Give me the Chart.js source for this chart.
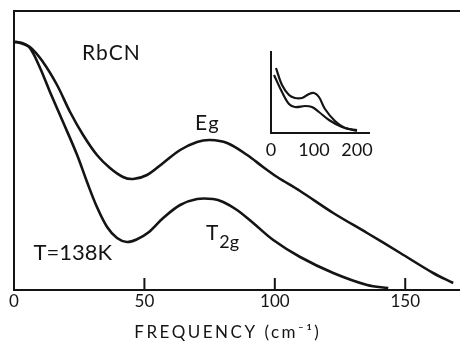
<!DOCTYPE html>
<html>
<head>
<meta charset="utf-8">
<script src="https://cdn.jsdelivr.net/npm/chart.js@4.4.1/dist/chart.umd.min.js"></script>
<style>
  body { margin: 0; background: #fff; }
  #wrap { position: relative; width: 460px; height: 343px; }
  #inset { position: absolute; left: 256px; top: 40px; }
</style>
</head>
<body>
<div id="wrap">
  <canvas id="main" width="460" height="343"></canvas>
  <canvas id="inset" width="130" height="128"></canvas>
</div>
<script>
// RbCN Raman spectra, T = 138 K (intensity in arbitrary units)
const egFreq = [0, 1.2, 6.1, 11.1, 16.5, 21.5, 26.5, 31.8, 36.8, 41.8, 45.7, 51.0, 57.2, 63.7, 70.2, 75.2, 81.7, 89.4, 95.5, 100.9, 109.7, 122.4, 135.4, 148.1, 160.7, 168.4];
const egInt  = [99.2, 99.2, 97.2, 91.2, 82.0, 71.2, 62.0, 54.0, 48.8, 45.2, 44.4, 46.0, 50.8, 56.0, 59.2, 60.0, 58.8, 54.0, 49.2, 45.2, 39.6, 30.8, 22.8, 14.8, 6.8, 2.8];

const t2gFreq = [0, 3.1, 6.1, 10.0, 13.8, 18.8, 24.2, 28.0, 31.8, 35.7, 39.5, 43.3, 47.0, 51.5, 57.2, 63.7, 70.2, 76.3, 80.2, 85.5, 91.7, 99.4, 109.7, 122.4, 135.4, 143.5];
const t2gInt  = [99.2, 98.8, 96.8, 88.8, 79.2, 67.2, 54.0, 43.2, 33.2, 25.2, 20.8, 19.2, 20.2, 23.0, 28.8, 34.0, 36.4, 36.4, 35.2, 32.0, 26.8, 20.0, 13.2, 6.8, 2.0, 0.8];

// inset, wider frequency range
const insetFreqA = [11.6, 25.6, 41.9, 55.8, 72.1, 88.4, 100, 111.6, 125.6, 148.8, 172.1, 200];
const insetIntA  = [65, 48, 38, 35, 35, 39, 40, 36, 24, 12, 5, 3];
const insetFreqB = [7, 25.6, 41.9, 55.8, 79.1, 95.3, 111.6, 134.9, 165.1, 200];
const insetIntB  = [58, 41, 29, 26, 27, 26, 21, 13, 6, 2];

const mainTicks = [0, 50, 100, 150];
const insetTicks = [0, 100, 200];

const FONT = "Lato, 'DejaVu Sans', sans-serif";
const INK = '#141414';

const toPoints = (xs, ys) => xs.map((x, i) => ({ x: x, y: ys[i] }));

const curve = (xs, ys, w) => ({
    data: toPoints(xs, ys),
    borderColor: INK,
    borderWidth: w,
    pointRadius: 0,
    fill: false,
    tension: 0.35
});

// tick marks that point up into the plot
const innerTicks = {
    id: 'innerTicks',
    afterDraw(chart, args, opts) {
        const x = chart.scales.x;
        const ctx = chart.ctx;
        ctx.save();
        ctx.strokeStyle = INK;
        ctx.lineWidth = 2;
        x.ticks.forEach(t => {
            if (t.value === 0) return;
            const px = x.getPixelForValue(t.value);
            ctx.beginPath();
            ctx.moveTo(px, x.top);
            ctx.lineTo(px, x.top - opts.length);
            ctx.stroke();
        });
        ctx.restore();
    }
};

// text labels on the plot
const labels = {
    id: 'labels',
    afterDraw(chart) {
        const ctx = chart.ctx;
        const x = chart.scales.x, y = chart.scales.y;
        const put = (text, fx, fy, size, sub, subSize, subDrop, spacing) => {
            ctx.font = size + 'px ' + FONT;
            ctx.letterSpacing = (spacing || 0) + 'px';
            const px = x.getPixelForValue(fx), py = y.getPixelForValue(fy);
            ctx.fillText(text, px, py);
            if (sub) {
                const w = ctx.measureText(text).width;
                ctx.font = subSize + 'px ' + FONT;
                ctx.fillText(sub, px + w + 1, py + subDrop);
            }
        };
        ctx.save();
        ctx.fillStyle = INK;
        ctx.textBaseline = 'alphabetic';
        ctx.textAlign = 'left';
        put('RbCN', 26.1, 92, 21, null, 0, 0, 1);
        put('E', 69.4, 64, 21, 'g', 20, 0);
        put('T', 73.6, 20, 21, '2g', 18, 8);
        put('T=138K', 7.5, 12, 22, null, 0, 0, 0);
        // axis title
        ctx.font = '17px ' + FONT;
        ctx.letterSpacing = '2.5px';
        ctx.textAlign = 'center';
        ctx.fillText('FREQUENCY (cm⁻¹)', x.getPixelForValue(82), chart.height - 5);
        ctx.restore();
    }
};

new Chart(document.getElementById('main'), {
    type: 'line',
    data: {
        datasets: [
            curve(egFreq, egInt, 2.6),
            curve(t2gFreq, t2gInt, 2.6)
        ]
    },
    options: {
        responsive: false,
        animation: false,
        layout: { padding: { left: 14, top: 11, right: 0, bottom: 0 } },
        plugins: { legend: { display: false }, tooltip: { enabled: false }, innerTicks: { length: 12 } },
        scales: {
            x: {
                type: 'linear',
                min: 0,
                max: 171,
                afterFit: s => { s.height = 53; },
                afterBuildTicks: s => { s.ticks = mainTicks.map(v => ({ value: v })); },
                grid: { display: false, drawTicks: false },
                border: { color: INK, width: 2 },
                ticks: { color: INK, padding: 1, font: { family: FONT, size: 17 } }
            },
            x2: {
                type: 'linear',
                position: 'top',
                afterFit: s => { s.height = 0; },
                grid: { display: false, drawTicks: false },
                border: { color: INK, width: 2 },
                ticks: { display: false }
            },
            y: {
                min: 0,
                max: 111.6,
                afterFit: s => { s.width = 0; },
                grid: { display: false, drawTicks: false },
                border: { color: INK, width: 2 },
                ticks: { display: false }
            }
        }
    },
    plugins: [innerTicks, labels]
});

new Chart(document.getElementById('inset'), {
    type: 'line',
    data: {
        datasets: [
            curve(insetFreqA, insetIntA, 2.2),
            curve(insetFreqB, insetIntB, 2.2)
        ]
    },
    options: {
        responsive: false,
        animation: false,
        layout: { padding: { left: 15, top: 12, right: 17, bottom: 0 } },
        plugins: { legend: { display: false }, tooltip: { enabled: false } },
        scales: {
            x: {
                type: 'linear',
                min: 0,
                max: 228,
                afterFit: s => { s.height = 35; },
                afterBuildTicks: s => { s.ticks = insetTicks.map(v => ({ value: v })); },
                grid: { display: false, drawTicks: false },
                border: { color: INK, width: 2 },
                ticks: { color: INK, padding: 6, font: { family: FONT, size: 18 } }
            },
            y: {
                min: 0,
                max: 81,
                afterFit: s => { s.width = 0; },
                grid: { display: false, drawTicks: false },
                border: { color: INK, width: 2 },
                ticks: { display: false }
            }
        }
    }
});
</script>
</body>
</html>
